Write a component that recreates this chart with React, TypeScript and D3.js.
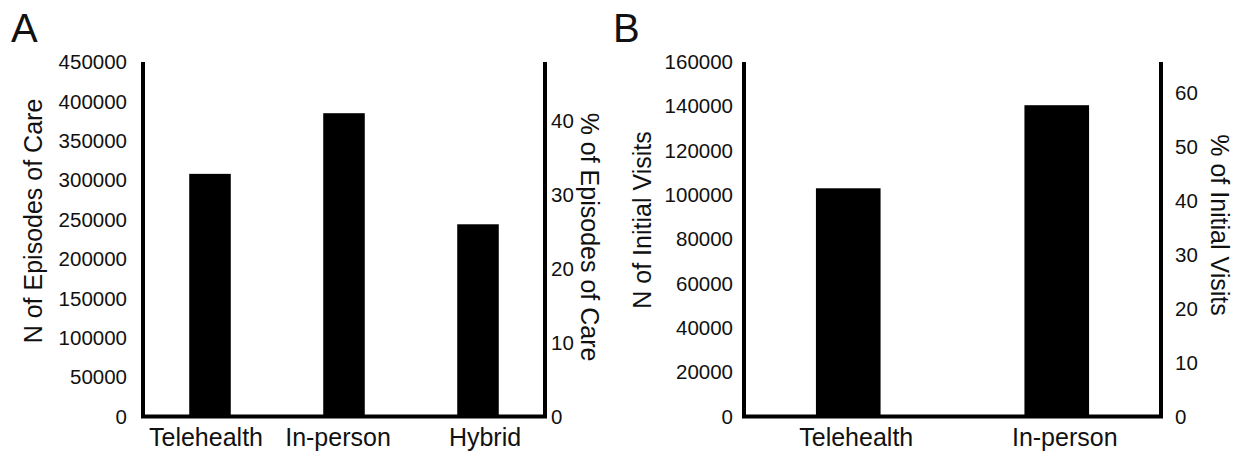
import React from "react";
import * as d3 from "d3";

// panel A: episodes of care
const episodeCategories = ["Telehealth", "In-person", "Hybrid"];
const episodeCounts = [308000, 385000, 244000];
const episodeTicks = [0, 50000, 100000, 150000, 200000, 250000, 300000, 350000, 400000, 450000];
const episodePctTicks = [0, 10, 20, 30, 40];

// panel B: initial visits
const visitCategories = ["Telehealth", "In-person"];
const visitCounts = [103000, 140500];
const visitTicks = [0, 20000, 40000, 60000, 80000, 100000, 120000, 140000, 160000];
const visitPctTicks = [0, 10, 20, 30, 40, 50, 60];

const font = "'Liberation Sans', Arial, Helvetica, sans-serif";
const ink = "#000";
const textInk = "#111";

type PanelProps = {
  letter: string;
  letterX: number;
  categories: string[];
  values: number[];
  ticks: number[];
  pctTicks: number[];
  left: number;
  right: number;
  leftTitle: string;
  rightTitle: string;
  leftTitlePos: [number, number];
  rightTitlePos: [number, number];
  leftLabelGap: number;
  rightLabelGap: number;
  labelShift: number[];
};

const top = 62,
  bottom = 416.5;

function Panel(props: PanelProps) {
  const { categories, values, ticks, pctTicks, left, right } = props;
  const maxN = d3.max(ticks) as number;
  const total = d3.sum(values);

  const x = d3.scaleBand()
    .domain(categories)
    .range([left, right])
    .paddingInner(0.69)
    .paddingOuter(0.345);

  const y = d3.scaleLinear().domain([0, maxN]).range([bottom, top]);
  const yPct = d3.scaleLinear().domain([0, (maxN / total) * 100]).range([bottom, top]);

  const bars = categories.map((c, i) => (
    <rect
      key={c}
      x={x(c)}
      y={y(values[i])}
      width={x.bandwidth()}
      height={y(0) - y(values[i])}
      fill={ink}
    />
  ));

  const leftLabels = ticks.map(t => (
    <text
      key={t}
      x={left - props.leftLabelGap}
      y={y(t)}
      dy="0.35em"
      textAnchor="end"
      fontSize={20.5}
    >{t}</text>
  ));

  const rightLabels = pctTicks.map(t => (
    <text
      key={t}
      x={right + props.rightLabelGap}
      y={yPct(t)}
      dy="0.35em"
      textAnchor="start"
      fontSize={20.5}
    >{t}</text>
  ));

  const catLabels = categories.map((c, i) => (
    <text
      key={c}
      x={(x(c) as number) + x.bandwidth() / 2 + props.labelShift[i]}
      y={446}
      textAnchor="middle"
      fontSize={25}
    >{c}</text>
  ));

  return (
    <g fill={textInk} fontFamily={font}>
      <text x={props.letterX} y={42} fontSize={40}>{props.letter}</text>
      {bars}
      <path
        d={`M${left},${top}V${bottom}H${right}V${top}`}
        fill="none"
        stroke={ink}
        strokeWidth={4}
      />
      {leftLabels}
      {rightLabels}
      {catLabels}
      <text
        transform={`translate(${props.leftTitlePos[0]},${props.leftTitlePos[1]}) rotate(-90)`}
        textAnchor="middle"
        dy="0.35em"
        fontSize={25}
      >{props.leftTitle}</text>
      <text
        transform={`translate(${props.rightTitlePos[0]},${props.rightTitlePos[1]}) rotate(90)`}
        textAnchor="middle"
        dy="0.35em"
        fontSize={25}
      >{props.rightTitle}</text>
    </g>
  );
}

export default function App() {
  return (
    <svg
      width={1239}
      height={455}
      style={{ position: "absolute", left: 0, top: 0, background: "#fff" }}
    >
      <Panel
        letter="A"
        letterX={11}
        categories={episodeCategories}
        values={episodeCounts}
        ticks={episodeTicks}
        pctTicks={episodePctTicks}
        left={143}
        right={545}
        leftTitle="N of Episodes of Care"
        rightTitle="% of Episodes of Care"
        leftTitlePos={[33, 221]}
        rightTitlePos={[590, 237]}
        leftLabelGap={16}
        rightLabelGap={6}
        labelShift={[-4, -6, 7]}
      />
      <Panel
        letter="B"
        letterX={613}
        categories={visitCategories}
        values={visitCounts}
        ticks={visitTicks}
        pctTicks={visitPctTicks}
        left={744}
        right={1161}
        leftTitle="N of Initial Visits"
        rightTitle="% of Initial Visits"
        leftTitlePos={[642, 220]}
        rightTitlePos={[1220, 225]}
        leftLabelGap={11}
        rightLabelGap={14}
        labelShift={[8, 8]}
      />
    </svg>
  );
}
